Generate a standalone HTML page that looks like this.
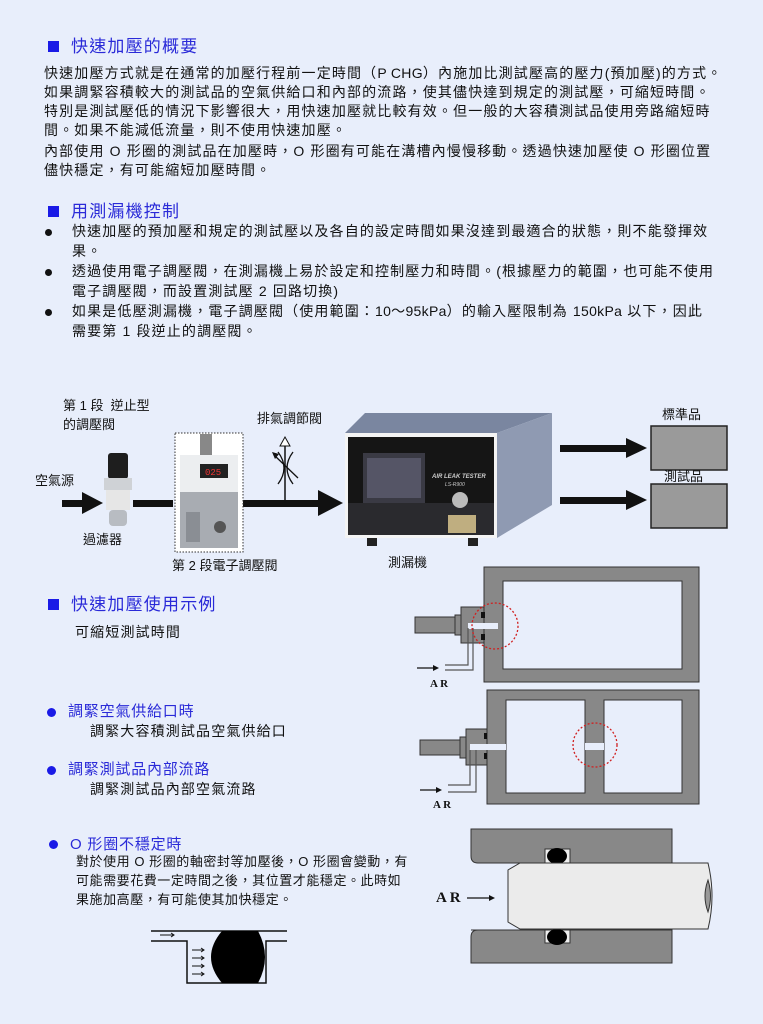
<!DOCTYPE html>
<html><head><meta charset="utf-8"><style>
body{margin:0;background:#e8eefb;}
#p{position:relative;width:763px;height:1024px;overflow:hidden;background:#e8eefb;font-family:"Liberation Sans","Noto Sans CJK TC",sans-serif;color:#111;}
.t{position:absolute;font-size:14px;line-height:19px;white-space:nowrap;letter-spacing:1.15px;}
.h{position:absolute;font-size:17px;line-height:20px;color:#2a2ad8;white-space:nowrap;letter-spacing:1.2px;}
.b{color:#2a2ad8;font-size:15px;letter-spacing:0.8px;}
.sq{display:inline-block;width:11px;height:11px;background:#1a1ae6;margin-right:12px;vertical-align:0px;}
.dot{position:absolute;width:7px;height:7px;border-radius:50%;background:#111;}
.bd{position:absolute;width:9px;height:9px;border-radius:50%;background:#1a1ae6;}
.s{position:absolute;font-size:13px;line-height:16px;white-space:nowrap;}
.s2{letter-spacing:0.55px;}
.l{letter-spacing:0.3px;}
svg{position:absolute;left:0;top:0;}
</style></head><body><div id="p">
<svg width="763" height="1024">
<g fill="#111" stroke="none">
<rect x="62" y="500" width="22" height="7"/><polygon points="82,492 103,503 82,514"/>
<rect x="133" y="500" width="40" height="7"/>
<rect x="243" y="500" width="78" height="7"/><polygon points="318,490 343,503 318,516"/>
<rect x="560" y="445" width="70" height="7"/><polygon points="626,438 647,448 626,458"/>
<rect x="560" y="497" width="70" height="7"/><polygon points="626,490 647,500 626,510"/>
</g>
<rect x="651" y="426" width="76" height="44" fill="#9a9a9a" stroke="#222" stroke-width="1.5"/>
<rect x="651" y="484" width="76" height="44" fill="#9a9a9a" stroke="#222" stroke-width="1.5"/>
<line x1="285" y1="503" x2="285" y2="445" stroke="#111" stroke-width="1.5"/>
<polygon points="280,446 285,437 290,446" fill="#fff" stroke="#111"/>
<path d="M278,452 Q290,468 278,484 M293,452 Q281,468 293,484" fill="none" stroke="#111" stroke-width="1.3"/>
<line x1="274" y1="455" x2="298" y2="478" stroke="#111" stroke-width="1.3"/>
<polygon points="272,452 279,454 275,459" fill="#111"/>
<rect x="108" y="453" width="20" height="26" rx="3" fill="#1e1e1e"/>
<rect x="104" y="478" width="28" height="12" fill="#cfd2d6"/>
<rect x="106" y="490" width="24" height="20" fill="#e6e6e6"/>
<rect x="109" y="510" width="18" height="16" rx="4" fill="#b8bcc2"/>
<rect x="175" y="433" width="68" height="119" fill="#fff" stroke="#333" stroke-dasharray="1.5,1.5"/>
<rect x="200" y="434" width="12" height="22" fill="#888"/>
<rect x="180" y="455" width="58" height="37" fill="#eceef0"/>
<rect x="200" y="464" width="28" height="14" fill="#222"/><text x="205" y="475" fill="#e33" font-size="9" font-family="Liberation Mono">025</text>
<rect x="180" y="492" width="58" height="56" fill="#a8acb2"/>
<rect x="186" y="512" width="14" height="30" fill="#8a8e94"/><circle cx="220" cy="527" r="6" fill="#555"/>
<polygon points="345,433 365,413 552,413 497,433" fill="#7a86a0"/>
<polygon points="497,433 552,413 552,505 497,538" fill="#8f9ab2"/>
<rect x="345" y="433" width="152" height="105" fill="#f4f4f4"/>
<rect x="348" y="437" width="146" height="66" fill="#151515"/>
<rect x="348" y="503" width="146" height="32" fill="#2a2a2e"/>
<rect x="363" y="453" width="62" height="50" fill="#3a3a44"/>
<rect x="367" y="458" width="54" height="40" fill="#556"/>
<text x="432" y="478" fill="#ccc" font-size="6" font-style="italic" font-weight="bold">AIR LEAK TESTER</text>
<text x="445" y="486" fill="#ccc" font-size="5" font-style="italic">LS-R900</text>
<circle cx="460" cy="500" r="8" fill="#bbb"/>
<rect x="448" y="515" width="28" height="18" fill="#bfae80"/>
<rect x="367" y="538" width="10" height="8" fill="#222"/><rect x="468" y="538" width="10" height="8" fill="#222"/>
<path fill-rule="evenodd" d="M484,567H699V682H484Z M503,581V669H682V581Z" fill="#888" stroke="#333"/>
<rect x="415" y="617" width="40" height="16" fill="#888" stroke="#333"/>
<rect x="455" y="615" width="6" height="20" fill="#888" stroke="#333"/>
<rect x="461" y="607" width="23" height="36" fill="#888" stroke="#333"/>
<rect x="468" y="623" width="30" height="6" fill="#e8eefb"/>
<rect x="481" y="612" width="4" height="6" fill="#111"/><rect x="481" y="634" width="4" height="6" fill="#111"/>
<path d="M468,628V665H445 M473,628V670H445" fill="none" stroke="#555" stroke-width="1.2"/>
<line x1="417" y1="668" x2="434" y2="668" stroke="#111" stroke-width="1.2"/><polygon points="433,665 439,668 433,671" fill="#111"/>
<circle cx="495" cy="626" r="23" fill="none" stroke="#d02020" stroke-width="1.3" stroke-dasharray="2,2"/>
<path fill-rule="evenodd" d="M487,690H699V804H487Z M506,700V793H585V700Z M604,700V793H682V700Z" fill="#888" stroke="#333"/>
<rect x="585" y="743" width="19" height="7" fill="#e8eefb"/>
<rect x="420" y="740" width="40" height="15" fill="#888" stroke="#333"/>
<rect x="460" y="737" width="6" height="21" fill="#888" stroke="#333"/>
<rect x="466" y="729" width="21" height="36" fill="#888" stroke="#333"/>
<rect x="470" y="744" width="36" height="6" fill="#e8eefb"/>
<rect x="484" y="733" width="3" height="6" fill="#111"/><rect x="484" y="753" width="3" height="6" fill="#111"/>
<path d="M470,750V785H448 M476,750V792H448" fill="none" stroke="#555" stroke-width="1.2"/>
<line x1="420" y1="790" x2="437" y2="790" stroke="#111" stroke-width="1.2"/><polygon points="436,787 442,790 436,793" fill="#111"/>
<circle cx="595" cy="745" r="22" fill="none" stroke="#d02020" stroke-width="1.3" stroke-dasharray="2,2"/>
<path d="M471,829H672V863H478Q471,863 471,856Z" fill="#888" stroke="#333"/>
<path d="M471,930H672V963H471V937Q471,930 478,930Z" fill="#888" stroke="#333"/>
<rect x="545" y="849" width="25" height="14" fill="#eee" stroke="#333"/>
<rect x="545" y="930" width="25" height="13" fill="#eee" stroke="#333"/>
<ellipse cx="557" cy="856" rx="10" ry="8" fill="#000"/><ellipse cx="557" cy="937" rx="10" ry="8" fill="#000"/>
<path d="M520,863H708Q716,896 708,929H520L508,922V870Z" fill="#ebebeb" stroke="#333"/>
<path d="M708,880Q702,896 708,912Q713,896 708,880Z" fill="#999" stroke="#333"/>
<line x1="467" y1="898" x2="490" y2="898" stroke="#111" stroke-width="1.2"/><polygon points="489,895 495,898 489,901" fill="#111"/>
<path d="M151,931H287 M151,941H187V983H266V941H287" fill="none" stroke="#111" stroke-width="1.5"/>
<path d="M222,931H258Q272,957 258,983H222Q200,957 222,931Z" fill="#000"/>
<g stroke="#111" stroke-width="1" fill="none"><path d="M160,935H174M171,933L174,935L171,937"/>
<path d="M192,950H204M201,948L204,950L201,952"/><path d="M192,958H204M201,956L204,958L201,960"/><path d="M192,966H204M201,964L204,966L201,968"/><path d="M192,974H204M201,972L204,974L201,976"/></g>
</svg>

<div class="h" style="left:48px;top:37px"><span class="sq"></span>快速加壓的概要</div>
<div class="t" style="left:44px;top:64px">快速加壓方式就是在通常的加壓行程前一定時間（<span class="l">P CHG</span>）內施加比測試壓高的壓力(預加壓)的方式。</div>
<div class="t" style="left:44px;top:83px">如果調緊容積較大的測試品的空氣供給口和內部的流路，使其儘快達到規定的測試壓，可縮短時間。</div>
<div class="t" style="left:44px;top:102px">特別是測試壓低的情況下影響很大，用快速加壓就比較有效。但一般的大容積測試品使用旁路縮短時</div>
<div class="t" style="left:44px;top:121px">間。如果不能減低流量，則不使用快速加壓。</div>
<div class="t" style="left:44px;top:142px">內部使用 O 形圈的測試品在加壓時，O 形圈有可能在溝槽內慢慢移動。透過快速加壓使 O 形圈位置</div>
<div class="t" style="left:44px;top:161px">儘快穩定，有可能縮短加壓時間。</div>

<div class="h" style="left:48px;top:202px"><span class="sq"></span>用測漏機控制</div>
<div class="dot" style="left:45px;top:229px"></div>
<div class="t" style="left:72px;top:222px">快速加壓的預加壓和規定的測試壓以及各自的設定時間如果沒達到最適合的狀態，則不能發揮效</div>
<div class="t" style="left:72px;top:242px">果。</div>
<div class="dot" style="left:45px;top:269px"></div>
<div class="t" style="left:72px;top:262px">透過使用電子調壓閥，在測漏機上易於設定和控制壓力和時間。(根據壓力的範圍，也可能不使用</div>
<div class="t" style="left:72px;top:282px">電子調壓閥，而設置測試壓 2 回路切換)</div>
<div class="dot" style="left:45px;top:309px"></div>
<div class="t" style="left:72px;top:302px">如果是低壓測漏機，電子調壓閥（使用範圍：<span class="l">10～95kPa</span>）的輸入壓限制為 <span class="l">150kPa</span> 以下，因此</div>
<div class="t" style="left:72px;top:322px">需要第 1 段逆止的調壓閥。</div>

<div class="s" style="left:63px;top:398px">第 1 段&nbsp; 逆止型</div>
<div class="s" style="left:63px;top:417px">的調壓閥</div>
<div class="s" style="left:257px;top:411px">排氣調節閥</div>
<div class="s" style="left:662px;top:407px">標準品</div>
<div class="s" style="left:664px;top:469px">測試品</div>
<div class="s" style="left:35px;top:473px">空氣源</div>
<div class="s" style="left:83px;top:532px">過濾器</div>
<div class="s" style="left:172px;top:558px">第 2 段電子調壓閥</div>
<div class="s" style="left:388px;top:555px">測漏機</div>

<div class="h" style="left:48px;top:595px"><span class="sq"></span>快速加壓使用示例</div>
<div class="t" style="left:75px;top:623px">可縮短測試時間</div>
<div class="s" style="left:430px;top:676px;font-weight:bold;font-size:11px;font-family:'Liberation Serif',serif">A R</div>
<div class="s" style="left:433px;top:797px;font-weight:bold;font-size:11px;font-family:'Liberation Serif',serif">A R</div>
<div class="s" style="left:436px;top:890px;font-weight:bold;font-size:15px;font-family:'Liberation Serif',serif">A R</div>

<div class="bd" style="left:47px;top:708px"></div>
<div class="t b" style="left:68px;top:702px">調緊空氣供給口時</div>
<div class="t" style="left:90px;top:722px">調緊大容積測試品空氣供給口</div>
<div class="bd" style="left:47px;top:766px"></div>
<div class="t b" style="left:68px;top:760px">調緊測試品內部流路</div>
<div class="t" style="left:90px;top:780px">調緊測試品內部空氣流路</div>
<div class="bd" style="left:49px;top:840px"></div>
<div class="t b" style="left:70px;top:835px">O 形圈不穩定時</div>
<div class="s s2" style="left:76px;top:854px">對於使用 O 形圈的軸密封等加壓後，O 形圈會變動，有</div>
<div class="s s2" style="left:76px;top:873px">可能需要花費一定時間之後，其位置才能穩定。此時如</div>
<div class="s s2" style="left:76px;top:892px">果施加高壓，有可能使其加快穩定。</div>
</div></body></html>
